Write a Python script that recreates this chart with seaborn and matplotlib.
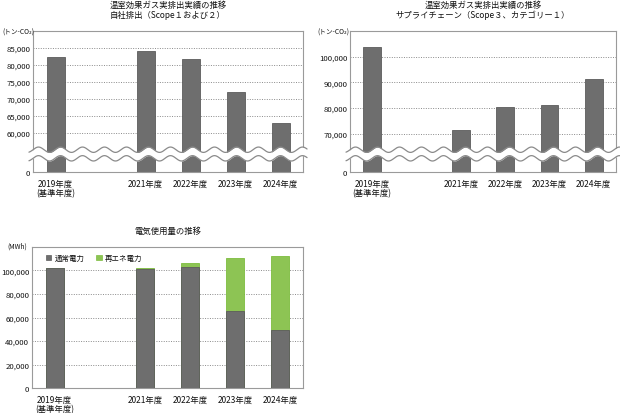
import numpy as np
import pandas as pd
import matplotlib
matplotlib.use("Agg")
import matplotlib.pyplot as plt
from matplotlib.patches import Patch
import seaborn as sns

# ---- data ----
years = ["2019年度\n(基準年度)", "2020年度", "2021年度", "2022年度", "2023年度", "2024年度"]
shown_labels = ["2019年度\n(基準年度)", "", "2021年度", "2022年度", "2023年度", "2024年度"]

scope12 = [82300, np.nan, 84200, 81900, 71900, 62900]
scope3_cat1 = [103700, np.nan, 71300, 80500, 81300, 91200]

normal_power = [101800, np.nan, 101500, 103000, 65200, 49800]
renew_power = [0, np.nan, 800, 3300, 45000, 62400]

scope12_ticks = [0, 60000, 65000, 70000, 75000, 80000, 85000]
scope3_ticks = [0, 70000, 80000, 90000, 100000]
power_ticks = [0, 20000, 40000, 60000, 80000, 100000]

GREY = "#6e6e6e"
GREY_EDGE = "#5c5c5c"
GREEN = "#8dc454"
GREEN_EDGE = "#7dbd3e"
FRAME = "#9a9a9a"
TXT = "#111111"
FS = 6.0
FS_Y = 5.6

sns.set_theme(style="white")
plt.rcParams["font.family"] = ["Noto Sans CJK JP", "DejaVu Sans"]

W, H = 620, 414


def broken_scale(brk, gap):
    # compress 0..brk into a short segment of height `gap`
    def fwd(v):
        v = np.asarray(v, dtype=float)
        return np.where(v >= brk, v - brk + gap, v * gap / brk)

    def inv(t):
        t = np.asarray(t, dtype=float)
        return np.where(t >= gap, t - gap + brk, t * brk / gap)
    return fwd, inv


def style_axes(ax, ticks):
    ax.set_yticks(ticks)
    ax.set_yticklabels(["0" if t == 0 else f"{t:,}" for t in ticks], fontsize=FS_Y, color=TXT)
    ax.set_xticks(range(len(shown_labels)))
    ax.set_xticklabels(shown_labels, fontsize=FS, linespacing=1.05, color=TXT)
    ax.tick_params(axis="both", length=0)
    ax.tick_params(axis="x", pad=5)
    ax.tick_params(axis="y", pad=2)
    ax.set_xlabel("")
    ax.set_ylabel("")
    ax.set_xlim(-0.5, len(shown_labels) - 0.5)
    for t in ticks:
        if t != 0:
            ax.axhline(t, color="#8a8a8a", linestyle=(0, (1, 1.5)), linewidth=0.7, zorder=0)
    for s in ax.spines.values():
        s.set_color(FRAME)
        s.set_linewidth(0.8)


def draw_break(ax, width_px):
    # two wavy lines with white band between them (axis break marker)
    n_waves = width_px / 22.0
    x = np.linspace(-0.015, 1.015, 600)
    amp = 0.019
    upper = 0.158 + amp * np.sin(2 * np.pi * n_waves * x)
    lower = 0.097 + amp * np.sin(2 * np.pi * n_waves * x)
    ax.fill_between(x, lower, upper, color="white", transform=ax.transAxes,
                    zorder=5, clip_on=False, linewidth=0)
    ax.plot(x, upper, color="#8a8a8a", linewidth=0.9, transform=ax.transAxes,
            zorder=6, clip_on=False)
    ax.plot(x, lower, color="#8a8a8a", linewidth=0.9, transform=ax.transAxes,
            zorder=6, clip_on=False)


def two_line_title(ax, line1, line2, ax_h):
    ax.text(0.5, 1 + 26.6 / ax_h, line1, transform=ax.transAxes,
            ha="center", va="center", fontsize=FS, color=TXT)
    ax.text(0.5, 1 + 16.6 / ax_h, line2, transform=ax.transAxes,
            ha="center", va="center", fontsize=FS, color=TXT)


fig = plt.figure(figsize=(W / 100, H / 100), dpi=100)
ax1 = fig.add_axes([33 / W, 1 - 173 / H, 270 / W, 141 / H])
ax2 = fig.add_axes([350 / W, 1 - 173 / H, 266 / W, 141 / H])
ax3 = fig.add_axes([32 / W, 1 - 389.3 / H, 271 / W, 141.6 / H])

# ---- chart 1: Scope 1 and 2 ----
df1 = pd.DataFrame({"year": years, "value": scope12})
sns.barplot(data=df1, x="year", y="value", order=years, color=GREY, width=0.4,
            saturation=1, edgecolor=GREY_EDGE, linewidth=0.6, ax=ax1, zorder=2)
ax1.set_yscale("function", functions=broken_scale(60000, 11500))
ax1.set_ylim(0, 90000)
style_axes(ax1, scope12_ticks)
draw_break(ax1, 270)
two_line_title(ax1, "温室効果ガス実排出実績の推移", "自社排出（Scope１および２）", 141)
fig.text(2 / W, 1 - 33 / H, "(トン-CO₂)", ha="left", va="center", fontsize=4.8, color=TXT)

# ---- chart 2: Scope 3 category 1 ----
df2 = pd.DataFrame({"year": years, "value": scope3_cat1})
sns.barplot(data=df2, x="year", y="value", order=years, color=GREY, width=0.4,
            saturation=1, edgecolor=GREY_EDGE, linewidth=0.6, ax=ax2, zorder=2)
ax2.set_yscale("function", functions=broken_scale(70000, 15000))
ax2.set_ylim(0, 110000)
style_axes(ax2, scope3_ticks)
draw_break(ax2, 266)
two_line_title(ax2, "温室効果ガス実排出実績の推移", "サプライチェーン（Scope３、カテゴリー１）", 141)
fig.text(317 / W, 1 - 33 / H, "(トン-CO₂)", ha="left", va="center", fontsize=4.8, color=TXT)

# ---- chart 3: electricity use (stacked) ----
df3 = pd.DataFrame({"year": years, "normal": normal_power, "renew": renew_power})
df3["total"] = df3["normal"] + df3["renew"]
sns.barplot(data=df3, x="year", y="total", order=years, color=GREEN, width=0.4,
            saturation=1, edgecolor=GREEN_EDGE, linewidth=0.6, ax=ax3, zorder=2)
sns.barplot(data=df3, x="year", y="normal", order=years, color=GREY, width=0.4,
            saturation=1, edgecolor=GREY_EDGE, linewidth=0.6, ax=ax3, zorder=3)
ax3.set_ylim(0, 120000)
style_axes(ax3, power_ticks)
ax3.text(0.5, 1 + 16.4 / 141.6, "電気使用量の推移", transform=ax3.transAxes,
         ha="center", va="center", fontsize=FS, color=TXT)
fig.text(7 / W, 1 - 247 / H, "(MWh)", ha="left", va="center", fontsize=4.8, color=TXT)
handles = [Patch(facecolor=GREY, edgecolor=GREY_EDGE, linewidth=0.5, label="通常電力"),
           Patch(facecolor=GREEN, edgecolor=GREEN_EDGE, linewidth=0.5, label="再エネ電力")]
ax3.legend(handles=handles, ncol=2, loc="upper left", bbox_to_anchor=(0.03, 0.99),
           frameon=False, fontsize=FS - 0.6, handlelength=0.7, handleheight=0.7,
           handletextpad=0.4, columnspacing=1.6, borderpad=0.3, labelcolor=TXT)

fig.savefig("out.png", dpi=100, facecolor="white")
